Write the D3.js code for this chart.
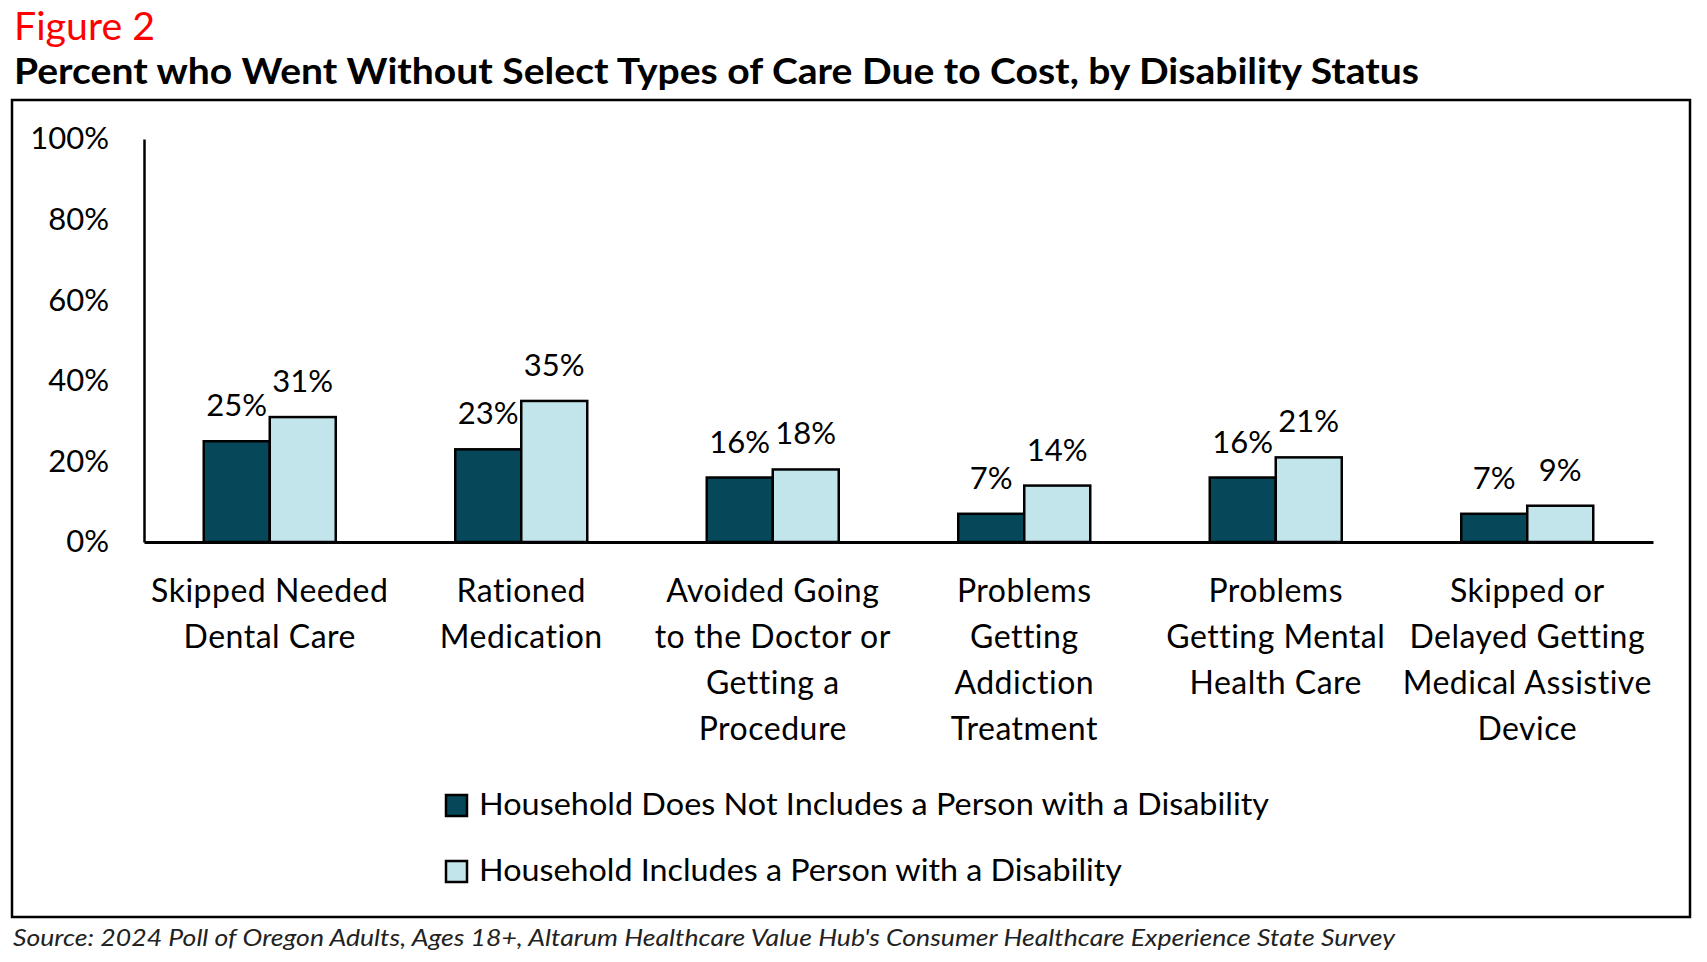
<!DOCTYPE html>
<html>
<head>
<meta charset="utf-8">
<script src="https://cdn.jsdelivr.net/npm/d3@7"></script>
<style>
  html, body { margin: 0; padding: 0; background: #fff; }
  svg { display: block; font-family: Lato, "Open Sans", sans-serif; }
</style>
</head>
<body>
<svg id="chart" width="1707" height="962"></svg>
<script>
// ---- data ----
const categories = [
  ["Skipped Needed", "Dental Care"],
  ["Rationed", "Medication"],
  ["Avoided Going", "to the Doctor or", "Getting a", "Procedure"],
  ["Problems", "Getting", "Addiction", "Treatment"],
  ["Problems", "Getting Mental", "Health Care"],
  ["Skipped or", "Delayed Getting", "Medical Assistive", "Device"]
];
const seriesNames = [
  "Household Does Not Includes a Person with a Disability",
  "Household Includes a Person with a Disability"
];
const noDisability = [25, 23, 16, 7, 16, 7];
const withDisability = [31, 35, 18, 14, 21, 9];
const yTicks = [0, 20, 40, 60, 80, 100];
const colors = ["#06475A", "#C2E5EB"];

// ---- layout ----
const svg = d3.select("#chart");

svg.append("text").attr("x", 14).attr("y", 40)
  .attr("font-size", 38).attr("fill", "#FF0000")
  .attr("textLength", 141).attr("lengthAdjust", "spacingAndGlyphs")
  .text("Figure 2");

svg.append("text").attr("x", 14).attr("y", 84)
  .attr("font-size", 37).attr("font-weight", 700).attr("fill", "#000")
  .attr("textLength", 1405).attr("lengthAdjust", "spacingAndGlyphs")
  .text("Percent who Went Without Select Types of Care Due to Cost, by Disability Status");

// outer box
svg.append("rect").attr("x", 12).attr("y", 100).attr("width", 1678).attr("height", 817)
  .attr("fill", "none").attr("stroke", "#000").attr("stroke-width", 2.5);

// scales
const keys = categories.map((d, i) => "c" + i);
const x0 = d3.scaleBand().domain(keys).range([144, 1653]).padding(0);
const x1 = d3.scaleBand().domain([0, 1]).range([-66, 66]).padding(0);
const y = d3.scaleLinear().domain([0, 100]).range([542, 139]);

// y axis
const yAxis = svg.append("g").attr("transform", "translate(144,0)")
  .call(d3.axisLeft(y).tickValues(yTicks).tickSize(0).tickSizeOuter(0).tickPadding(35)
    .tickFormat(d => d + "%"));
yAxis.select(".domain").attr("stroke", "#000").attr("stroke-width", 2.5);
yAxis.selectAll("text").attr("font-size", 31).attr("fill", "#000")
  .attr("font-family", "Lato, sans-serif");

// bars
const data = categories.map((c, i) => ({ key: keys[i], vals: [noDisability[i], withDisability[i]] }));
const groups = svg.append("g").selectAll("g").data(data).join("g")
  .attr("transform", d => `translate(${x0(d.key) + x0.bandwidth() / 2},0)`);

groups.selectAll("rect").data(d => d.vals.map((v, s) => ({ v, s }))).join("rect")
  .attr("x", d => x1(d.s))
  .attr("width", x1.bandwidth())
  .attr("y", d => y(d.v))
  .attr("height", d => y(0) - y(d.v))
  .attr("fill", d => colors[d.s])
  .attr("stroke", "#000").attr("stroke-width", 2.5);

groups.selectAll("text.val").data(d => d.vals.map((v, s) => ({ v, s }))).join("text")
  .attr("class", "val")
  .attr("x", d => x1(d.s) + x1.bandwidth() / 2)
  .attr("y", d => y(d.v) - 25)
  .attr("text-anchor", "middle")
  .attr("font-size", 31).attr("fill", "#000")
  .text(d => d.v + "%");

// x axis baseline and labels
const xAxis = svg.append("g").attr("transform", "translate(0,542)")
  .call(d3.axisBottom(x0).tickSize(0).tickSizeOuter(0).tickFormat(""));
xAxis.select(".domain").attr("stroke", "#000").attr("stroke-width", 3);
xAxis.selectAll(".tick text").remove();
xAxis.selectAll(".tick").each(function(d, i) {
  const t = d3.select(this).append("text")
    .attr("text-anchor", "middle").attr("fill", "#000")
    .attr("font-size", 32).attr("letter-spacing", 0.5)
    .attr("font-family", "Lato, sans-serif");
  categories[i].forEach((line, j) => {
    t.append("tspan").attr("x", 0).attr("y", 60 + j * 46).text(line);
  });
});

// legend
const legendLengths = [790, 643];
const legend = svg.append("g");
seriesNames.forEach((name, i) => {
  const yy = 795 + i * 66;
  legend.append("rect").attr("x", 446).attr("y", yy).attr("width", 21).attr("height", 21)
    .attr("fill", colors[i]).attr("stroke", "#000").attr("stroke-width", 2.5);
  legend.append("text").attr("x", 479).attr("y", yy + 20)
    .attr("font-size", 31).attr("fill", "#000")
    .attr("textLength", legendLengths[i]).attr("lengthAdjust", "spacingAndGlyphs")
    .text(name);
});

// source
svg.append("text").attr("x", 13).attr("y", 946)
  .attr("font-size", 23).attr("font-style", "italic").attr("fill", "#222")
  .attr("textLength", 1382).attr("lengthAdjust", "spacingAndGlyphs")
  .text("Source: 2024 Poll of Oregon Adults, Ages 18+, Altarum Healthcare Value Hub's Consumer Healthcare Experience State Survey");
</script>
</body>
</html>
